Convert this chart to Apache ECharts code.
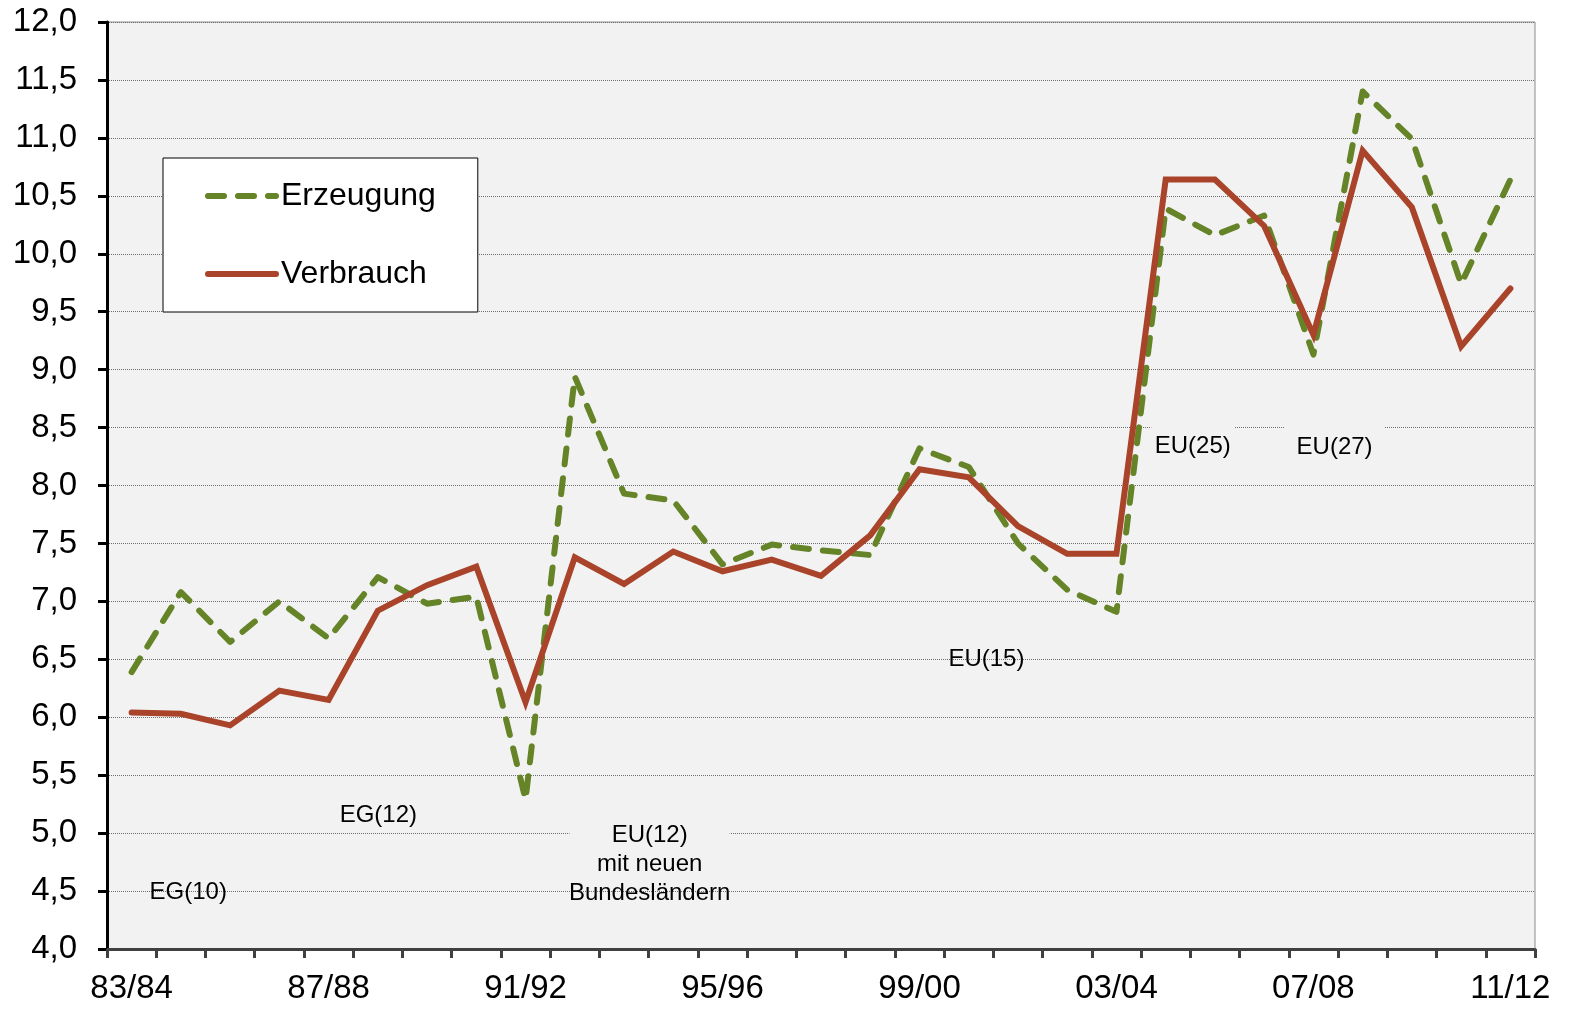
<!DOCTYPE html>
<html><head><meta charset="utf-8">
<script src="https://cdn.jsdelivr.net/npm/echarts@6/dist/echarts.min.js"></script>
<style>html,body{margin:0;padding:0;background:#fff}#c{width:1571px;height:1010px}</style>
</head><body><div id="c"></div>
<script>
const categories = ['83/84','84/85','85/86','86/87','87/88','88/89','89/90','90/91','91/92','92/93','93/94','94/95','95/96','96/97','97/98','98/99','99/00','00/01','01/02','02/03','03/04','04/05','05/06','06/07','07/08','08/09','09/10','10/11','11/12'];
const erzeugung = [6.39, 7.08, 6.65, 7.00, 6.68, 7.21, 6.98, 7.04, 5.29, 8.94, 7.93, 7.87, 7.32, 7.49, 7.44, 7.40, 8.32, 8.16, 7.50, 7.10, 6.91, 10.39, 10.16, 10.33, 9.13, 11.40, 10.99, 9.74, 10.64];
const verbrauch = [6.04, 6.03, 5.93, 6.23, 6.15, 6.92, 7.14, 7.30, 6.13, 7.38, 7.15, 7.43, 7.26, 7.36, 7.22, 7.57, 8.14, 8.07, 7.65, 7.41, 7.41, 10.64, 10.64, 10.24, 9.30, 10.89, 10.40, 9.20, 9.70];
const annoTexts = ['EG(10)', 'EG(12)', 'EU(12)\nmit neuen\nBundesländern', 'EU(15)', 'EU(25)', 'EU(27)'];
const annoIdx = [1.15, 5.01, 10.52, 17.36, 21.55, 24.43];
const annoVal = [4.49, 5.15, 4.73, 6.50, 8.34, 8.33];

const FONT = '"Liberation Sans", Arial, Helvetica, sans-serif';
const chart = echarts.init(document.getElementById('c'));
chart.setOption({
  animation: false,
  backgroundColor: '#ffffff',
  grid: { left: 107, right: 36, top: 22, bottom: 61, show: true, backgroundColor: '#f2f2f2', borderColor: '#8c8c8c', borderWidth: 1 },
  legend: {
    left: 163, top: 158, orient: 'vertical',
    backgroundColor: '#ffffff', borderColor: '#000', borderWidth: 1,
    padding: [22, 42, 22, 42], itemGap: 46, itemWidth: 68, itemHeight: 4,
    textStyle: { fontFamily: FONT, fontSize: 32, lineHeight: 30, color: '#000' },
    lineStyle: { width: 6 },
    itemStyle: { opacity: 0 },
    data: ['Erzeugung', 'Verbrauch']
  },
  xAxis: {
    type: 'category', data: categories, boundaryGap: true,
    axisLine: { lineStyle: { color: '#404040', width: 3 } },
    axisTick: { show: true, interval: 0, length: 9, lineStyle: { color: '#404040', width: 3 } },
    axisLabel: { interval: 3, fontFamily: FONT, fontSize: 33, color: '#000', margin: 23 },
    splitLine: { show: false }
  },
  yAxis: {
    type: 'value', min: 4, max: 12, interval: 0.5,
    axisLine: { show: true, lineStyle: { color: '#000', width: 3 } },
    axisTick: { show: true, length: 9, lineStyle: { color: '#000', width: 3 } },
    axisLabel: { fontFamily: FONT, fontSize: 33, color: '#000', margin: 30, formatter: v => v.toFixed(1).replace('.', ',') },
    splitLine: { show: true, lineStyle: { color: '#6e6e6e', width: 1, type: [1, 1] } }
  },
  series: [
    { name: 'Erzeugung', type: 'line', data: erzeugung, symbol: 'none', z: 3,
      lineStyle: { color: '#658327', width: 6, type: [16, 14], cap: 'round', join: 'round' },
      itemStyle: { color: '#658327' } },
    { name: 'Verbrauch', type: 'line', data: verbrauch, symbol: 'none', z: 4,
      lineStyle: { color: '#a9442b', width: 6, cap: 'round', join: 'miter' },
      itemStyle: { color: '#a9442b' } }
  ]
});

function px(idx, val) {
  const a = chart.convertToPixel({ gridIndex: 0 }, [0, val]);
  const b = chart.convertToPixel({ gridIndex: 0 }, [1, val]);
  return [a[0] + (b[0] - a[0]) * idx, a[1]];
}
// boxes behind some annotations (width, top offset, bottom offset relative to text centre)
const boxSpec = { 2: [160, -50, 10], 4: [83, -28, 22], 5: [100, -29, 22] };
const graphics = [];
annoTexts.forEach((t, i) => {
  const p = px(annoIdx[i], annoVal[i]);
  if (boxSpec[i]) {
    const s = boxSpec[i];
    graphics.push({ type: 'rect', z: 1, silent: true,
      shape: { x: p[0] - s[0] / 2, y: p[1] + s[1], width: s[0], height: s[2] - s[1] },
      style: { fill: '#f2f2f2' } });
  }
  graphics.push({ type: 'text', z: 1, silent: true, x: p[0], y: p[1],
    style: { text: t, fontFamily: FONT, fontSize: 24, lineHeight: 29, fill: '#000', align: 'center', verticalAlign: 'middle' } });
});
chart.setOption({ graphic: graphics });
</script>
</body></html>
